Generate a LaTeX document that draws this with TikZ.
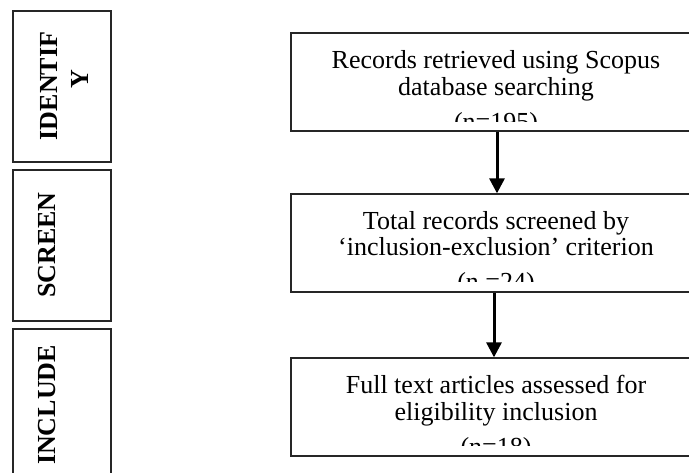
\documentclass[tikz,border=0pt]{standalone}
\usepackage{fontspec}
\setmainfont{Liberation Serif}
\usetikzlibrary{arrows.meta}
\begin{document}
\begin{tikzpicture}[x=1pt,y=-1pt,
  lbox/.style={draw=black!85, line width=1.3pt, minimum width=98pt, inner sep=0pt},
  rbox/.style={draw=black!85, line width=1.3pt, minimum width=401pt, minimum height=98pt, inner sep=0pt},
  lbl/.style={font=\fontsize{26}{30}\selectfont\bfseries, rotate=90, inner sep=0pt},
  txt/.style={font=\fontsize{26}{27}\selectfont, align=center, inner sep=0pt, anchor=base},
  arr/.style={line width=3pt, -{Triangle[width=15pt,length=15pt]}}]
\useasboundingbox (0,0) rectangle (689,473);
% left stage boxes
\node[lbox, minimum height=151pt] (s1) at (62,86.5) {};
\node[lbox, minimum height=151pt] (s2) at (62,245.5) {};
\node[lbox, minimum height=160pt] (s3) at (62,409) {};
\node[lbl] (s1a) at (49,86) {IDENTIF};
\node[lbl] (s1b) at (80,79) {Y};
\node[lbl] (s2a) at (47.5,245) {SCREEN};
\node[lbl] (s3a) at (47.5,405) {INCLUDE};
% right boxes
\node[rbox] (a) at (491.5,82) {};
\node[rbox] (b) at (491.5,243) {};
\node[rbox] (c) at (491.5,407) {};
\begin{scope}
\clip ([yshift=10pt]a.south west) rectangle (a.north east);
\node[txt] (ta) at (496,130.5) {Records retrieved using Scopus\\database searching\\[8pt](n=195)};
\end{scope}
\begin{scope}
\clip ([yshift=11pt]b.south west) rectangle (b.north east);
\node[txt] (tb) at (496,291) {Total records screened by\\‘inclusion-exclusion’ criterion\\[8pt](n =24)};
\end{scope}
\begin{scope}
\clip ([yshift=11pt]c.south west) rectangle (c.north east);
\node[txt] (tc) at (496,455) {Full text articles assessed for\\eligibility inclusion\\[8pt](n=18)};
\end{scope}
\draw[arr] ([xshift=5.5pt]a.south) -- ([xshift=5.5pt]b.north);
\draw[arr] ([xshift=2.5pt]b.south) -- ([xshift=2.5pt]c.north);
\end{tikzpicture}
\end{document}
